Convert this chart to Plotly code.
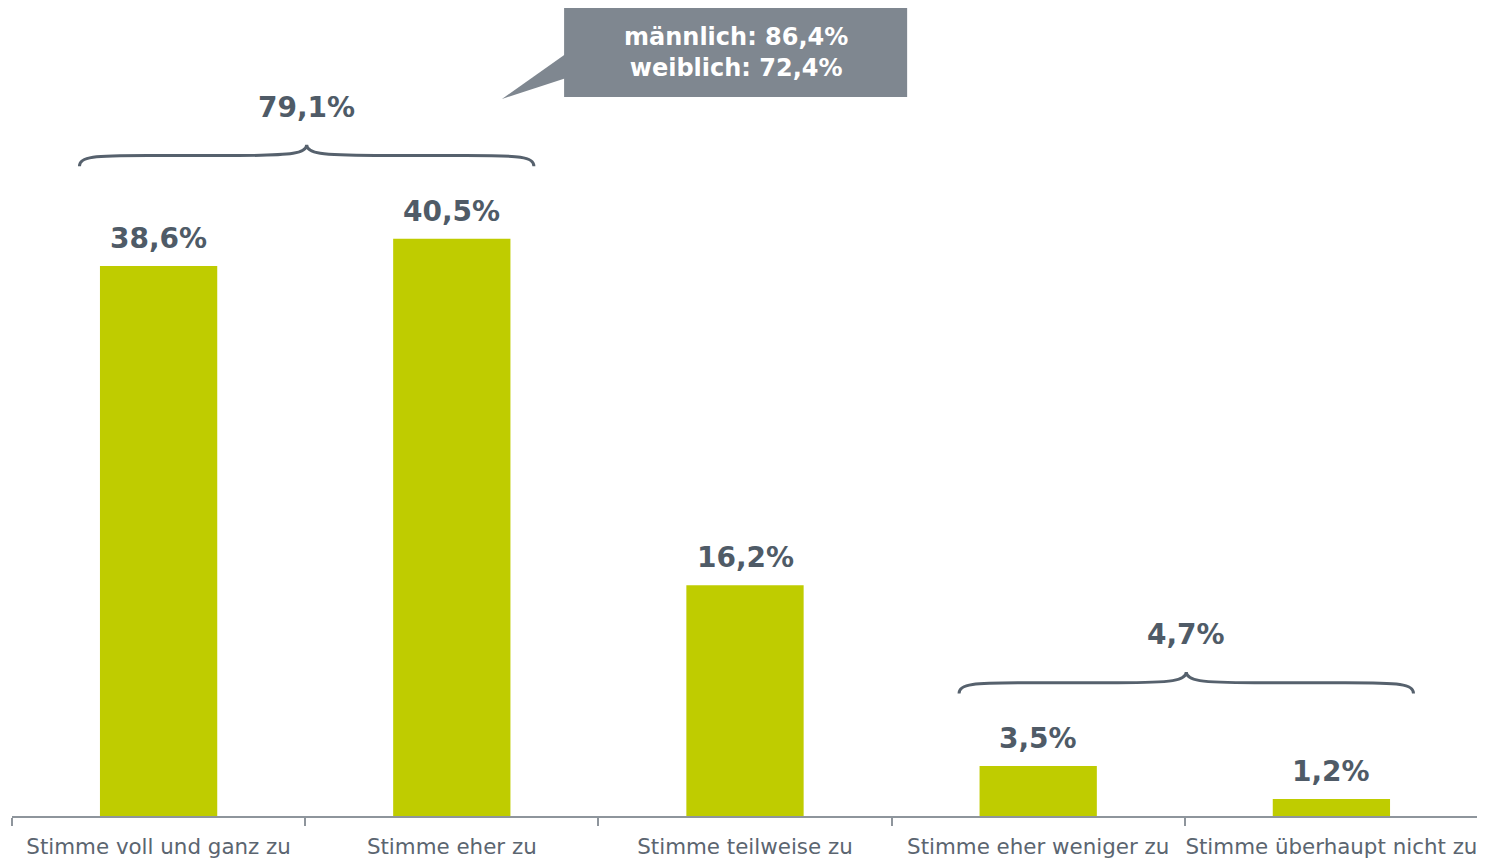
import plotly.graph_objects as go

categories = ["Stimme voll und ganz zu", "Stimme eher zu", "Stimme teilweise zu",
              "Stimme eher weniger zu", "Stimme überhaupt nicht zu"]
values = [38.6, 40.5, 16.2, 3.5, 1.2]
value_labels = ["38,6%", "40,5%", "16,2%", "3,5%", "1,2%"]
groups = [(0, 1), (3, 4)]
group_labels = ["79,1%", "4,7%"]
callout_lines = ["männlich: 86,4%", "weiblich: 72,4%"]

BAR = "#BFCC00"
TXT = "#4F5B67"
LBL = "#5B6570"
AXC = "#8E959C"
BOX = "#7F8790"
FONT = "DejaVu Sans"

fig = go.Figure()
fig.add_trace(go.Bar(x=categories, y=values, marker=dict(color=BAR, line=dict(width=0)),
                     width=0.4, hoverinfo="skip"))

annotations = []
shapes = []
for i, (v, t) in enumerate(zip(values, value_labels)):
    annotations.append(dict(x=i, y=v, xref="x", yref="y", text="<b>%s</b>" % t,
                            showarrow=False, yanchor="bottom", yshift=9,
                            font=dict(family=FONT, size=28, color=TXT)))

# curly braces above groups
for (a, b), lab in zip(groups, group_labels):
    top = max(values[a:b + 1])
    yb = top + 5.1
    h = 1.5
    x0 = a - 0.27
    x1 = b + 0.28
    xm = (x0 + x1) / 2
    W = (x1 - x0) / 2
    ym = yb + 0.5 * h
    yt = yb + h
    path = (f"M {x0},{yb} "
            f"C {x0},{yb + 0.45*h} {x0 + 0.06*W},{ym} {x0 + 0.3*W},{ym} "
            f"L {xm - 0.3*W},{ym} "
            f"C {xm - 0.06*W},{ym} {xm},{yb + 0.6*h} {xm},{yt} "
            f"C {xm},{yb + 0.6*h} {xm + 0.06*W},{ym} {xm + 0.3*W},{ym} "
            f"L {x1 - 0.3*W},{ym} "
            f"C {x1 - 0.06*W},{ym} {x1},{yb + 0.45*h} {x1},{yb}")
    shapes.append(dict(type="path", path=path, xref="x", yref="y",
                       line=dict(color="#56616D", width=3)))
    annotations.append(dict(x=xm, y=yt, xref="x", yref="y", text="<b>%s</b>" % lab,
                            showarrow=False, yanchor="bottom", yshift=19,
                            font=dict(family=FONT, size=28, color=TXT)))

# callout box (data coordinates; y range tops out at ~56.7)
bx0, bx1 = 1.383, 2.553
by0, by1 = 50.46, 56.70
shapes.append(dict(type="rect", x0=bx0, x1=bx1, y0=by0, y1=by1, xref="x", yref="y",
                   fillcolor=BOX, line=dict(width=0)))
shapes.append(dict(type="path", xref="x", yref="y", fillcolor=BOX, line=dict(width=0),
                   path=f"M {bx0 + 0.01},{53.55} L {1.171},{50.32} L {bx0 + 0.01},{51.8} Z"))
annotations.append(dict(x=(bx0 + bx1) / 2, y=(by0 + by1) / 2, xref="x", yref="y",
                        text="<b>" + "<br>".join(callout_lines) + "</b>",
                        showarrow=False, align="center",
                        font=dict(family=FONT, size=24, color="white")))

fig.update_layout(
    width=1477, height=850,
    margin=dict(l=4, r=7, t=0, b=42),
    paper_bgcolor="white", plot_bgcolor="white",
    showlegend=False,
    bargap=0.6,
    xaxis=dict(type="category", range=[-0.5, 4.5], showline=True, linecolor=AXC, linewidth=2,
               ticks="outside", tickson="boundaries", ticklen=8, tickcolor=AXC, tickwidth=1.5,
               tickangle=0, automargin=False, ticklabelstandoff=10,
               showgrid=False, tickfont=dict(family=FONT, size=21.4, color=LBL),
               fixedrange=True),
    yaxis=dict(range=[0, 56.70], visible=False, showgrid=False, fixedrange=True,
               automargin=False),
    shapes=shapes, annotations=annotations,
)

fig.write_html("out.html")
